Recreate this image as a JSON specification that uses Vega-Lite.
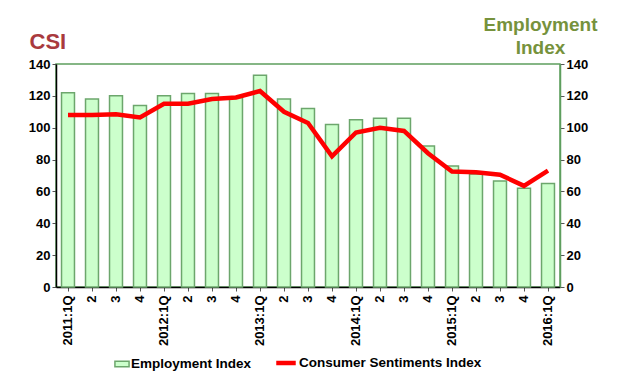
{
  "$schema": "https://vega.github.io/schema/vega-lite/v6.json",
  "width": 504,
  "height": 223,
  "autosize": {"type": "none"},
  "padding": {"left": 56, "top": 64, "right": 58, "bottom": 91},
  "background": "white",
  "data": {"values": [
    {"period": "2011:1Q", "emp": 122, "csi": 108},
    {"period": "2011:2", "emp": 118, "csi": 108},
    {"period": "2011:3", "emp": 120, "csi": 108.5},
    {"period": "2011:4", "emp": 114, "csi": 106.5},
    {"period": "2012:1Q", "emp": 120, "csi": 115},
    {"period": "2012:2", "emp": 121.5, "csi": 115},
    {"period": "2012:3", "emp": 121.5, "csi": 118},
    {"period": "2012:4", "emp": 119, "csi": 119},
    {"period": "2013:1Q", "emp": 133, "csi": 123},
    {"period": "2013:2", "emp": 118, "csi": 110},
    {"period": "2013:3", "emp": 112, "csi": 103},
    {"period": "2013:4", "emp": 102, "csi": 82},
    {"period": "2014:1Q", "emp": 105, "csi": 97},
    {"period": "2014:2", "emp": 106, "csi": 100},
    {"period": "2014:3", "emp": 106, "csi": 98},
    {"period": "2014:4", "emp": 88.5, "csi": 84},
    {"period": "2015:1Q", "emp": 76, "csi": 72.5},
    {"period": "2015:2", "emp": 71, "csi": 72},
    {"period": "2015:3", "emp": 66.5, "csi": 70.5},
    {"period": "2015:4", "emp": 62, "csi": 63.5},
    {"period": "2016:1Q", "emp": 65, "csi": 73}
  ]},
  "encoding": {
    "x": {
      "field": "period", "type": "nominal", "sort": null,
      "scale": {"paddingInner": 0.46, "paddingOuter": 0.23},
      "axis": {
        "title": null, "labelAngle": -90, "labelAlign": "right", "labelBaseline": "middle",
        "labelPadding": 4,
        "labelExpr": "indexof(datum.value, 'Q') > 0 ? datum.value : substring(datum.value, 5)"
      }
    }
  },
  "layer": [
    {
      "mark": {"type": "bar", "stroke": "#6CA66C", "strokeWidth": 1.5},
      "encoding": {
        "y": {
          "field": "emp", "type": "quantitative",
          "scale": {"domain": [0, 140]},
          "axis": {
            "orient": "right", "values": [0, 20, 40, 60, 80, 100, 120, 140],
            "domainColor": "#5E9E5E",
            "title": ["Employment", "Index"], "titleAngle": 0, "titleX": -20, "titleY": -34,
            "titleAlign": "center", "titleBaseline": "alphabetic", "titleLineHeight": 23,
            "titleColor": "#76923C", "titleFontSize": 19, "titleFontWeight": "bold"
          }
        },
        "fill": {
          "datum": "Employment Index",
          "scale": {"range": ["#CCFFCC"]},
          "legend": {
            "title": null, "orient": "none", "legendX": 58, "legendY": 292,
            "symbolType": "M-1,-0.4H1V0.4H-1Z", "symbolSize": 200,
            "symbolStrokeColor": "#6CA66C", "symbolStrokeWidth": 1.5
          }
        }
      }
    },
    {
      "mark": {"type": "line", "color": "#FF0000", "strokeWidth": 4.5},
      "encoding": {
        "y": {
          "field": "csi", "type": "quantitative",
          "scale": {"domain": [0, 140]},
          "axis": {
            "orient": "left", "values": [0, 20, 40, 60, 80, 100, 120, 140],
            "title": "CSI", "titleAngle": 0, "titleX": -27, "titleY": -16,
            "titleAlign": "left", "titleBaseline": "alphabetic",
            "titleColor": "#A93A3E", "titleFontSize": 22, "titleFontWeight": "bold"
          }
        },
        "stroke": {
          "datum": "Consumer Sentiments Index",
          "scale": {"range": ["#FF0000"]},
          "legend": {
            "title": null, "orient": "none", "legendX": 218, "legendY": 287,
            "symbolType": "stroke", "symbolStrokeWidth": 4.5, "symbolSize": 380
          }
        }
      }
    }
  ],
  "resolve": {"scale": {"y": "independent", "fill": "independent", "stroke": "independent"}},
  "config": {
    "font": "Liberation Sans",
    "view": {"stroke": "#5E9E5E", "strokeWidth": 1.5},
    "axis": {
      "grid": false, "domainColor": "#000000", "domainWidth": 1.5, "tickColor": "#555555",
      "tickSize": 4, "labelFont": "Liberation Sans", "labelFontSize": 13, "labelFontWeight": "bold",
      "labelColor": "#000000", "titleFont": "Liberation Sans"
    },
    "legend": {
      "direction": "horizontal", "labelFont": "Liberation Sans",
      "labelFontSize": 13.5, "labelFontWeight": "bold", "labelColor": "#000000",
      "labelOffset": 1, "labelLimit": 400, "padding": 0
    }
  }
}
